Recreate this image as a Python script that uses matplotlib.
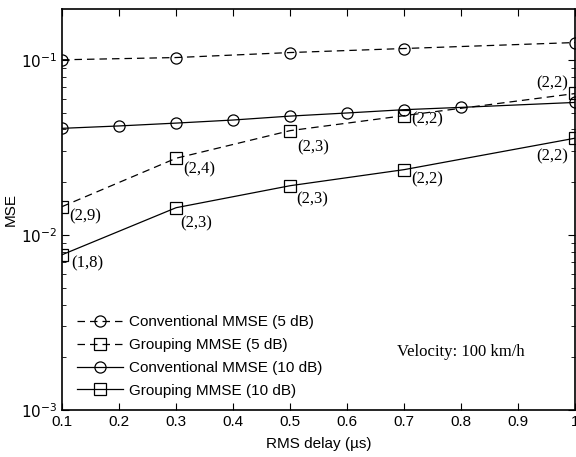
import numpy as np
import matplotlib.pyplot as plt
from matplotlib.ticker import LogLocator, NullFormatter

# ---- data ----
delay_sparse = [0.1, 0.3, 0.5, 0.7, 1.0]
delay_dense = [0.1, 0.2, 0.3, 0.4, 0.5, 0.6, 0.7, 0.8, 1.0]

conv_5db = [0.100, 0.103, 0.110, 0.116, 0.1255]
group_5db = [0.0145, 0.0274, 0.0394, 0.0480, 0.0642]
conv_10db = [0.0406, 0.0419, 0.0435, 0.0453, 0.0477, 0.0497, 0.0519, 0.0535, 0.0571]
group_10db = [0.0077, 0.0143, 0.0191, 0.0236, 0.0357]

labels_5db = ["(2,9)", "(2,4)", "(2,3)", "(2,2)", "(2,2)"]
labels_10db = ["(1,8)", "(2,3)", "(2,3)", "(2,2)", "(2,2)"]

sans = ["Liberation Sans", "DejaVu Sans"]
serif = ["Liberation Serif", "DejaVu Serif"]

plt.rcParams["mathtext.fontset"] = "custom"
plt.rcParams["mathtext.rm"] = "Liberation Sans"
plt.rcParams["mathtext.it"] = "Liberation Sans"
plt.rcParams["mathtext.default"] = "regular"
plt.rcParams["axes.unicode_minus"] = False

fig = plt.figure(figsize=(5.76, 4.57), dpi=100)
ax = fig.add_axes([0.1076, 0.1028, 0.8915, 0.8775])

mk = dict(markersize=8, markerfacecolor="none", markeredgecolor="black",
          markeredgewidth=0.9, color="black", linewidth=0.9)
ax.semilogy(delay_sparse, conv_5db, linestyle=(0, (6, 4)), marker="o",
            label="Conventional MMSE (5 dB)", **mk)
ax.semilogy(delay_sparse, group_5db, linestyle=(0, (6, 4)), marker="s",
            label="Grouping MMSE (5 dB)", **mk)
ax.semilogy(delay_dense, conv_10db, linestyle="-", marker="o",
            label="Conventional MMSE (10 dB)", **mk)
ax.semilogy(delay_sparse, group_10db, linestyle="-", marker="s",
            label="Grouping MMSE (10 dB)", **mk)

# (a,b) annotations, offsets in points
offs_5db = [(5, -7), (5, -8), (5, -12), (5, -3), (-28, 7)]
offs_10db = [(7, -6), (3, -11), (4, -10), (5, -7), (-28, -13)]
for x, y, t, o in zip(delay_sparse, group_5db, labels_5db, offs_5db):
    ax.annotate(t, (x, y), xytext=o, textcoords="offset points",
                fontsize=12, family=serif, va="center")
for x, y, t, o in zip(delay_sparse, group_10db, labels_10db, offs_10db):
    ax.annotate(t, (x, y), xytext=o, textcoords="offset points",
                fontsize=12, family=serif, va="center")

ax.text(0.688, 2.14e-3, "Velocity: 100 km/h", fontsize=12, family=serif,
        va="center")

ax.set_xlim(0.1, 1.0)
ax.set_ylim(1e-3, 0.195)
ax.set_xticks([0.1, 0.2, 0.3, 0.4, 0.5, 0.6, 0.7, 0.8, 0.9, 1.0])
ax.set_xticklabels(["0.1", "0.2", "0.3", "0.4", "0.5", "0.6", "0.7", "0.8", "0.9", "1"],
                   family=sans, fontsize=11)
ax.yaxis.set_major_locator(LogLocator(base=10, numticks=10))
ax.yaxis.set_minor_locator(LogLocator(base=10, subs=np.arange(2, 10), numticks=10))
ax.yaxis.set_minor_formatter(NullFormatter())
ax.tick_params(axis="both", which="both", direction="in", top=True, right=True,
               labelsize=11)
ax.tick_params(which="major", length=5)
ax.tick_params(which="minor", length=3)
for s in ax.spines.values():
    s.set_linewidth(1.2)

ax.set_xlabel("RMS delay (\u00b5s)", family=sans, fontsize=11, labelpad=6)
ax.set_ylabel("MSE", family=sans, fontsize=11, labelpad=2)

leg = ax.legend(loc="lower left", frameon=False, prop={"family": sans, "size": 11},
                handlelength=3.0, handletextpad=0.4, labelspacing=0.58,
                borderaxespad=0.4, bbox_to_anchor=(0.005, 0.0))

fig.savefig("out.png", dpi=100)
